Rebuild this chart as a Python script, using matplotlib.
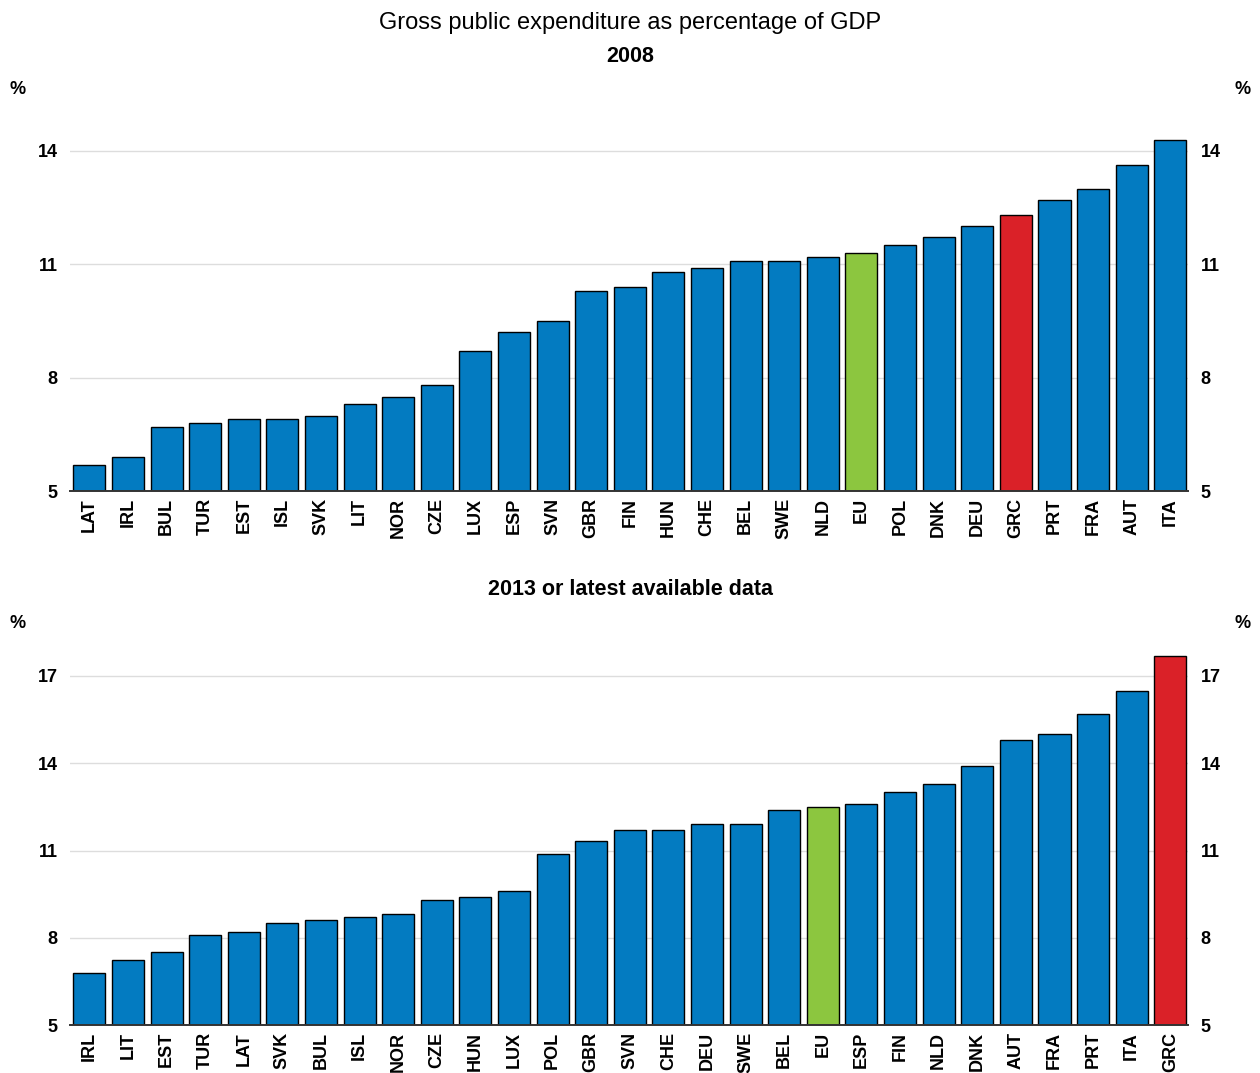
import numpy as np
from matplotlib import pyplot as plt
import matplotlib

matplotlib.rcParams.update({
    "font.family": ["Liberation Sans", "DejaVu Sans"],
    "font.size": 13,
})

# 2008 panel
countries_2008 = ["LAT", "IRL", "BUL", "TUR", "EST", "ISL", "SVK", "LIT", "NOR", "CZE",
                  "LUX", "ESP", "SVN", "GBR", "FIN", "HUN", "CHE", "BEL", "SWE", "NLD",
                  "EU", "POL", "DNK", "DEU", "GRC", "PRT", "FRA", "AUT", "ITA"]
values_2008 = [5.70, 5.89, 6.70, 6.81, 6.90, 6.90, 6.98, 7.30, 7.50, 7.80,
               8.70, 9.20, 9.50, 10.30, 10.41, 10.79, 10.89, 11.09, 11.09, 11.20,
               11.31, 11.51, 11.71, 12.00, 12.30, 12.69, 13.00, 13.62, 14.30]

# 2013 or latest panel
countries_2013 = ["IRL", "LIT", "EST", "TUR", "LAT", "SVK", "BUL", "ISL", "NOR", "CZE",
                  "HUN", "LUX", "POL", "GBR", "SVN", "CHE", "DEU", "SWE", "BEL", "EU",
                  "ESP", "FIN", "NLD", "DNK", "AUT", "FRA", "PRT", "ITA", "GRC"]
values_2013 = [6.79, 7.22, 7.51, 8.11, 8.21, 8.52, 8.61, 8.71, 8.81, 9.30,
               9.40, 9.60, 10.89, 11.32, 11.70, 11.70, 11.90, 11.90, 12.39, 12.50,
               12.59, 13.00, 13.30, 13.89, 14.79, 15.00, 15.69, 16.50, 17.70]

BLUE = "#037BC1"
GREEN = "#8CC63F"
RED = "#DA2128"


def bar_colors(names):
    cols = []
    for n in names:
        if n == "EU":
            cols.append(GREEN)
        elif n == "GRC":
            cols.append(RED)
        else:
            cols.append(BLUE)
    return cols


def draw_panel(ax, names, vals, ylim, yticks):
    x = np.arange(len(names))
    ax.bar(x, np.array(vals) - ylim[0], bottom=ylim[0], width=0.83,
           color=bar_colors(names), edgecolor="black", linewidth=1, zorder=2)
    ax.set_xlim(-0.5, len(names) - 1 + 0.46)
    ax.set_ylim(*ylim)
    ax.set_yticks(yticks)
    ax.set_yticklabels([str(t) for t in yticks], fontweight="bold", fontsize=13)
    ax.set_xticks(x)
    ax.set_xticklabels(names, rotation=90, fontweight="bold", fontsize=13)
    ax.tick_params(axis="x", length=0, pad=5)
    ax.tick_params(axis="y", left=False, right=False, labelleft=True, labelright=True,
                   length=0, pad=9)
    ax.yaxis.grid(True, color="#DDDDDD", linewidth=1)
    ax.set_axisbelow(True)
    for s in ("top", "left", "right"):
        ax.spines[s].set_visible(False)
    ax.spines["bottom"].set_linewidth(1.4)
    ax.spines["bottom"].set_color("#333333")
    ax.spines["bottom"].set_zorder(3)


fig = plt.figure(figsize=(12.6, 10.73), dpi=100)

ax1 = fig.add_axes([0.0556, 0.5424, 0.8873, 0.3504])
draw_panel(ax1, countries_2008, values_2008, (5, 14.95), [5, 8, 11, 14])

ax2 = fig.add_axes([0.0556, 0.0447, 0.8873, 0.3543])
draw_panel(ax2, countries_2013, values_2013, (5, 18.07), [5, 8, 11, 14, 17])

fig.text(0.5, 0.979, "Gross public expenditure as percentage of GDP",
         ha="center", va="center", fontsize=17)
fig.text(0.5, 0.947, "2008", ha="center", va="center", fontsize=15.5, fontweight="bold")
fig.text(0.5, 0.451, "2013 or latest available data", ha="center", va="center",
         fontsize=15.5, fontweight="bold")

for yy in (0.917, 0.419):
    fig.text(0.0143, yy, "%", ha="center", va="center", fontsize=13, fontweight="bold")
    fig.text(0.9865, yy, "%", ha="center", va="center", fontsize=13, fontweight="bold")

fig.savefig("out.png", dpi=100)
